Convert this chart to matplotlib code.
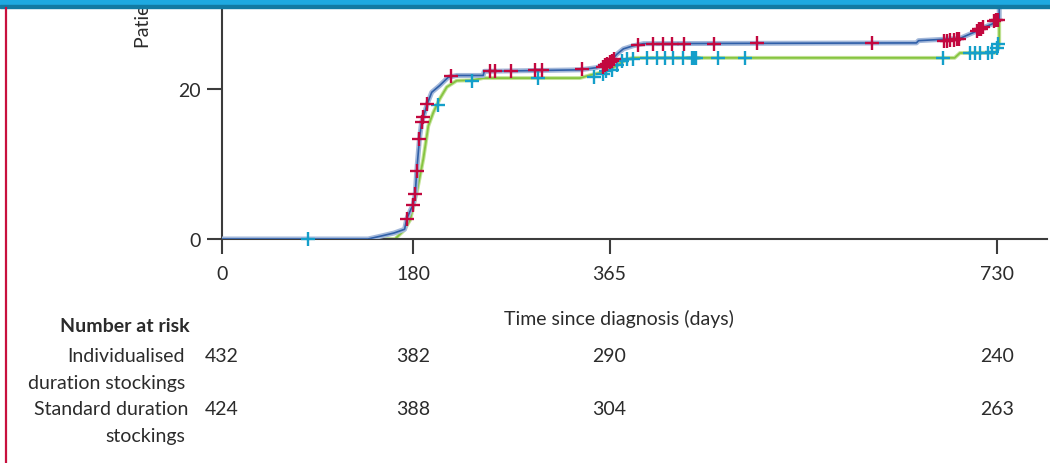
import numpy as np
import matplotlib
matplotlib.use("Agg")
import matplotlib.pyplot as plt
from matplotlib.patches import Rectangle
from matplotlib.lines import Line2D
import matplotlib.transforms as mtransforms

plt.rcParams['font.family'] = ['Lato', 'DejaVu Sans']

# cumulative incidence (%), individualised duration stockings
ind_days = [0, 137.5, 150, 162, 172, 174, 178, 180, 182, 183.4, 185.9, 188, 189.6,
            193.4, 197.5, 205, 213, 221, 246, 247, 337, 353, 365, 372, 378, 387,
            397, 654, 656, 695, 708, 718, 725, 730, 732, 732]
ind_pct = [0, 0, 0.4, 0.8, 1.3, 2.7, 4.0, 4.5, 6.0, 9.1, 13.3, 15.6, 16.3,
           18.1, 19.6, 20.5, 21.6, 21.85, 21.85, 22.4, 22.6, 22.9, 23.6, 24.7, 25.4, 25.8,
           26.1, 26.2, 26.5, 26.8, 27.6, 28.3, 28.7, 29.2, 29.3, 34]

# standard duration stockings
std_days = [0, 163, 171, 177, 183.4, 189.6, 194.3, 199, 205, 211.7, 221, 235, 246,
            337, 347, 359, 366, 372, 381, 387, 690, 695, 729, 731, 732, 732]
std_pct = [0, 0, 1.1, 2.5, 6.2, 10.7, 15.1, 16.9, 18.7, 20.3, 21.15, 21.2, 21.5,
           21.5, 21.9, 22.3, 22.7, 23.2, 24.0, 24.2, 24.2, 24.85, 24.9, 25.5, 26.1, 34]

# censoring marks
ind_cens_days = [174, 180, 182, 183.4, 185.9, 188, 189.6, 193.4, 216, 252, 257, 272,
                 295, 301, 339, 359, 361, 363, 365, 367, 369, 392, 406, 415, 424,
                 435, 463, 504, 612, 680, 683, 686, 689, 692, 694, 711, 713, 715,
                 717, 727, 729, 731]
ind_cens_pct = [2.7, 4.5, 6.0, 9.1, 13.3, 15.6, 16.3, 18.1, 21.8, 22.4, 22.4, 22.5,
                22.6, 22.6, 22.7, 23.0, 23.2, 23.4, 23.6, 23.8, 24.1, 25.9, 26.1, 26.1, 26.1,
                26.1, 26.1, 26.2, 26.2, 26.5, 26.5, 26.6, 26.6, 26.7, 26.7, 27.8, 28.0, 28.1,
                28.3, 29.1, 29.2, 29.3]
std_cens_days = [81, 203, 235, 298, 350, 359, 362, 367, 372, 376.5, 381, 387.5, 400,
                 409.5, 417.3, 425, 434.5, 443, 444, 445, 446, 467.5, 493, 679.5,
                 704.6, 709, 714, 721.8, 725, 729.6, 731]
std_cens_pct = [0, 17.9, 21.15, 21.5, 21.7, 22.1, 22.4, 22.6, 23.2, 23.8, 24.0, 24.1, 24.2,
                24.2, 24.2, 24.2, 24.2, 24.2, 24.2, 24.2, 24.2, 24.2, 24.2, 24.2,
                24.85, 24.85, 24.85, 24.85, 25.0, 25.5, 26.1]

xticks = [0, 180, 365, 730]
yticks = [0, 20]
risk_ind = [432, 382, 290, 240]
risk_std = [424, 388, 304, 263]

W, H = 1050, 464
txt = '#2b2b2b'
fs = 14
fig = plt.figure(figsize=(W / 100, H / 100), dpi=100)
ax = fig.add_axes([222 / W, 1 - 240 / H, (1047 - 222) / W, 240 / H])


def fx(px):
    return px / W


def fy(py):
    return 1 - py / H


# curves
ax.plot(ind_days, ind_pct, color='#a3b8da', lw=3.6, solid_capstyle='butt', zorder=3)
ax.plot(ind_days, ind_pct, color='#2f5fa8', lw=1.2, zorder=4)
ax.plot(std_days, std_pct, color='#c4e39a', lw=2.8, zorder=2)
ax.plot(std_days, std_pct, color='#86c441', lw=1.3, zorder=2.5)
ax.plot(std_cens_days, std_cens_pct, ls='none', marker='+', ms=9.5, mew=1.7,
        color='#149fca', zorder=5, clip_on=False)
ax.plot(ind_cens_days, ind_cens_pct, ls='none', marker='+', ms=9.5, mew=1.7,
        color='#c2083f', zorder=6, clip_on=False)

ax.set_xlim(0, 777)
ax.set_ylim(0, 240 / 7.485)
ax.set_xticks(xticks)
ax.set_yticks(yticks)
ax.spines['top'].set_visible(False)
ax.spines['right'].set_visible(False)
for s in ['left', 'bottom']:
    ax.spines[s].set_color('#3c3c3c')
    ax.spines[s].set_linewidth(1.5)
ax.tick_params(axis='x', length=11, width=1.5, color='#3c3c3c', pad=8,
               labelsize=fs, labelcolor=txt)
ax.tick_params(axis='y', length=11, width=1.5, color='#3c3c3c', pad=4,
               labelsize=fs, labelcolor=txt)
ax.patch.set_alpha(0)

fig.text(fx(619), fy(319), 'Time since diagnosis (days)', ha='center', va='center',
         fontsize=fs, color=txt)
fig.text(fx(143), fy(48), 'Patients with post-thrombotic syndrome (%)', rotation=90,
         ha='center', va='bottom', fontsize=fs, color=txt)

# number at risk table
fig.text(fx(190), fy(327), 'Number at risk', ha='right', va='center',
         fontsize=fs, fontweight='bold', color=txt)
labels = [('Individualised', 185, 356), ('duration stockings', 185, 383),
          ('Standard duration', 188, 410), ('stockings', 185, 437)]
for s, x, y in labels:
    fig.text(fx(x), fy(y), s, ha='right', va='center', fontsize=fs, color=txt)
trans = mtransforms.blended_transform_factory(ax.transData, fig.transFigure)
for d, a, b in zip(xticks, risk_ind, risk_std):
    fig.text(d, fy(356), str(a), transform=trans, ha='center', va='center',
             fontsize=fs, color=txt)
    fig.text(d, fy(410), str(b), transform=trans, ha='center', va='center',
             fontsize=fs, color=txt)

# page decorations
fig.add_artist(Rectangle((0, fy(6)), 1, 6 / H, transform=fig.transFigure,
                         color='#1ea9e1', zorder=10))
fig.add_artist(Rectangle((0, fy(9)), 1, 3 / H, transform=fig.transFigure,
                         color='#127aa3', zorder=10))
fig.add_artist(Line2D([fx(6), fx(6)], [0, fy(9)], transform=fig.transFigure,
                      color='#c8103e', lw=1.6, zorder=10))

fig.savefig('out.png', dpi=100)
